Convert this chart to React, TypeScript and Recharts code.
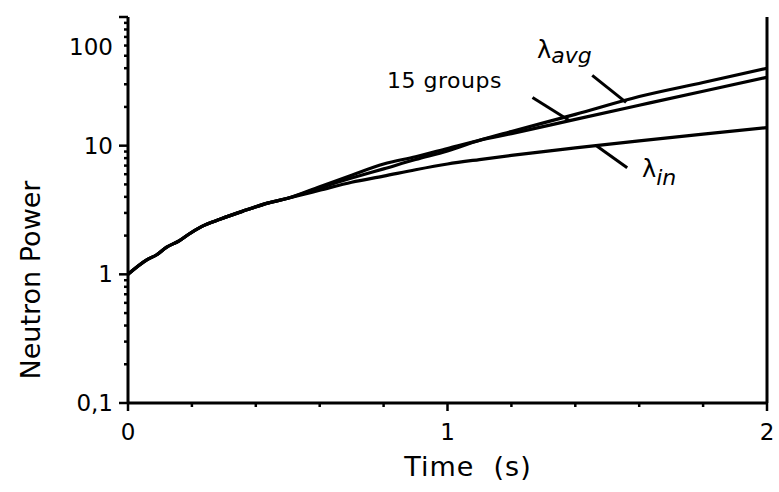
import { LineChart, Line, XAxis, YAxis, ReferenceLine } from 'recharts'

// time (s) and neutron power for the three delayed-neutron treatments
const TIME = [0, 0.06, 0.09, 0.12, 0.16, 0.19, 0.23, 0.29, 0.36, 0.44, 0.5, 0.6, 0.7, 0.8, 0.9, 1.0, 1.1, 1.2, 1.4, 1.6, 1.8, 2.0]
const LAMBDA_IN = [1, 1.3, 1.42, 1.62, 1.82, 2.05, 2.35, 2.69, 3.1, 3.59, 3.9, 4.5, 5.2, 5.8, 6.5, 7.2, 7.8, 8.4, 9.6, 10.9, 12.3, 13.8]
const LAMBDA_AVG = [1, 1.3, 1.42, 1.62, 1.82, 2.05, 2.35, 2.69, 3.1, 3.59, 3.9, 4.7, 5.6, 6.6, 7.8, 9.1, 11, 12.9, 17.5, 24.1, 31, 40]
const GROUPS_15 = [1, 1.3, 1.42, 1.62, 1.82, 2.05, 2.35, 2.69, 3.1, 3.59, 3.9, 4.8, 5.9, 7.2, 8.2, 9.5, 11, 12.4, 16, 20.6, 26.5, 34]

const X_TICKS = [0, 0.2, 0.4, 0.6, 0.8, 1, 1.2, 1.4, 1.6, 1.8, 2]
const X_MAJOR = [0, 1, 2]
const Y_TICKS = [0.1, 0.2, 0.3, 0.4, 0.5, 0.6, 0.7, 0.8, 0.9, 1, 2, 3, 4, 5, 6, 7, 8, 9, 10, 20, 30, 40, 50, 60, 70, 80, 90, 100]
const Y_MAJOR = [0.1, 1, 10, 100]

// leader lines from the curve labels to the curves, [t0, P0, t1, P1]
const LEADERS = [
  [1.453, 35.2, 1.559, 21.7],
  [1.266, 23.7, 1.381, 15.7],
  [1.466, 10, 1.5625, 6.73],
]

const FONT = '"DejaVu Sans", sans-serif'

const data = TIME.map((t, i) => ({
  t,
  lin: LAMBDA_IN[i],
  lavg: LAMBDA_AVG[i],
  g15: GROUPS_15[i],
}))

function XTick({ x, y, payload }: any) {
  const major = X_MAJOR.includes(payload.value)
  return (
    <g>
      <line x1={x} x2={x} y1={y} y2={y + (major ? 8 : 4)} stroke="#000" strokeWidth={2.5} />
      {major && (
        <text x={x} y={y + 37} textAnchor="middle" fontSize={23} fontFamily={FONT} fill="#000">
          {payload.value}
        </text>
      )}
    </g>
  )
}

function YTick({ x, y, payload }: any) {
  const v = payload.value
  const major = Y_MAJOR.includes(v)
  // the top label sits a little below its tick
  const shift = v === 100 ? 30 : 0
  return (
    <g>
      <line x1={x - (major ? 9 : 4)} x2={x} y1={y} y2={y} stroke="#000" strokeWidth={2.5} />
      {major && (
        <text x={x - 15} y={y + 8 + shift} textAnchor="end" fontSize={23} fontFamily={FONT} fill="#000">
          {v === 0.1 ? '0,1' : String(v)}
        </text>
      )}
    </g>
  )
}

export default function App() {
  return (
    <div style={{ position: 'absolute', left: 0, top: 0, width: 779, height: 492, background: '#fff' }}>
      <LineChart width={779} height={492} data={data} margin={{ top: 17, right: 12, bottom: 0, left: 0 }}>
        <XAxis
          dataKey="t"
          type="number"
          domain={[0, 2]}
          ticks={X_TICKS}
          interval={0}
          height={89}
          tickSize={0}
          tickMargin={0}
          tickLine={false}
          axisLine={{ stroke: '#000', strokeWidth: 3 }}
          tick={XTick}
        />
        <YAxis
          type="number"
          scale="log"
          domain={[0.1, 100]}
          allowDataOverflow
          ticks={Y_TICKS}
          interval={0}
          width={128}
          tickSize={0}
          tickMargin={0}
          tickLine={false}
          axisLine={{ stroke: '#000', strokeWidth: 3 }}
          tick={YTick}
        />
        <ReferenceLine x={2} stroke="#000" strokeWidth={3} />
        {LEADERS.map((s, i) => (
          <ReferenceLine
            key={i}
            segment={[{ x: s[0], y: s[1] }, { x: s[2], y: s[3] }]}
            stroke="#000"
            strokeWidth={3}
          />
        ))}
        <Line type="monotone" dataKey="lin" stroke="#000" strokeWidth={3.2} dot={false} isAnimationActive={false} />
        <Line type="monotone" dataKey="g15" stroke="#000" strokeWidth={3.2} dot={false} isAnimationActive={false} />
        <Line type="monotone" dataKey="lavg" stroke="#000" strokeWidth={3.2} dot={false} isAnimationActive={false} />
      </LineChart>
      <svg
        width={779}
        height={492}
        style={{ position: 'absolute', left: 0, top: 0, pointerEvents: 'none' }}
        fontFamily={FONT}
      >
        <text x={387} y={88} fontSize={22} letterSpacing={0.5}>15 groups</text>
        <text x={537} y={58} fontSize={24}>
          λ<tspan fontSize={22} fontStyle="italic" dy={5}>avg</tspan>
        </text>
        <text x={642} y={177} fontSize={24}>
          λ<tspan fontSize={22} fontStyle="italic" dy={8}>in</tspan>
        </text>
        <text x={468} y={476} fontSize={27} textAnchor="middle" letterSpacing={1}>
          {'Time\u00a0\u00a0(s)'}
        </text>
        <text
          x={0}
          y={0}
          fontSize={27}
          textAnchor="middle"
          transform="translate(40 280) rotate(-90)"
        >
          Neutron Power
        </text>
      </svg>
    </div>
  )
}
